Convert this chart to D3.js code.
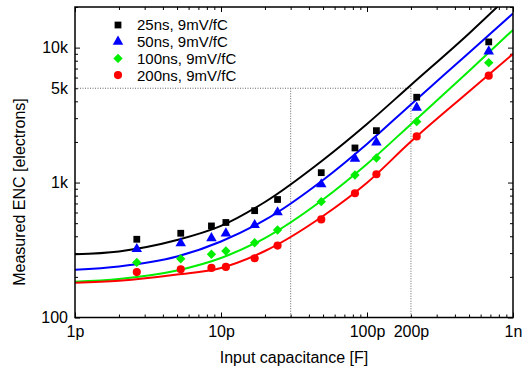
<!DOCTYPE html>
<html>
<head>
<meta charset="utf-8">
<script src="https://cdn.jsdelivr.net/npm/d3@7"></script>
<style>
  body { margin: 0; background: #fff; }
  svg { display: block; font-family: "Liberation Sans", Arial, sans-serif; }
</style>
</head>
<body>
<svg id="chart"></svg>
<script>
// measured points, capacitance in pF
const capPoints = [2.65, 5.3, 8.6, 10.8, 17, 24.4, 48.6, 82.7, 116, 219, 682]
const enc25 = [380, 421, 477, 506, 619, 749, 1184, 1805, 2425, 4289, 11024]
const enc50 = [322, 355, 387, 420, 485, 603, 971, 1504, 1983, 3592, 9372]
const enc100 = [256, 272, 294, 311, 358, 445, 722, 1138, 1522, 2828, 7741]
const enc200 = [217, 228, 233, 237, 275, 341, 533, 833, 1152, 2197, 6200]

// fitted curves
const fitCap = [1, 2, 5, 10, 20, 50, 100, 200, 500, 1000]
const fit25 = [294, 309, 375, 477, 718, 1471, 2719, 5290, 12745, 25880]
const fit50 = [226, 239, 283, 366, 528, 1045, 1933, 3793, 9168, 17928]
const fit100 = [184, 193, 223, 276, 388, 749, 1373, 2710, 6721, 13527]
const fit200 = [181, 187, 208, 233, 311, 565, 997, 2013, 4734, 8982]

const seriesNames = ["25ns, 9mV/fC", "50ns, 9mV/fC", "100ns, 9mV/fC", "200ns, 9mV/fC"]
const seriesColors = ["#000000", "#0000ff", "#00ee00", "#ff0000"]

const xTickVals = [1, 10, 100, 200, 1000]
const xTickLabels = ["1p", "10p", "100p", "200p", "1n"]
const yTickVals = [100, 1000, 5000, 10000]
const yTickLabels = ["100", "1k", "5k", "10k"]

// guide lines: 30p and 200p up to 5k
const guideCap = [30, 200]
const guideEnc = 5000

const width = 523, height = 374
const pLeft = 75, pRight = 513, pTop = 7, pBottom = 317.5

const svg = d3.select("#chart").attr("width", width).attr("height", height)

const x = d3.scaleLog().domain([1, 1000]).range([pLeft, pRight])
const y = d3.scaleLog().domain([100, 20000]).range([pBottom, pTop])

svg.append("defs").append("clipPath").attr("id", "plot")
    .append("rect")
    .attr("x", pLeft).attr("y", pTop)
    .attr("width", pRight - pLeft).attr("height", pBottom - pTop)

// minor ticks
function minorTicks(lo, hi){
    var t = []
    for (let d = lo; d < hi; d *= 10){
        for (let k = 2; k < 10; k++) t.push(d*k)
    }
    return t
}
const xMinor = minorTicks(1, 1000)
const yMinor = minorTicks(100, 10000).concat([20000])
const xMajor = [1, 10, 100, 1000]
const yMajor = [100, 1000, 10000]

function tickAxis(axis, vals, size){
    return axis.tickValues(vals).tickSize(-size).tickFormat("")
}

const axes = svg.append("g").attr("stroke-width", 1)
axes.append("g").attr("transform", `translate(0,${pBottom})`).call(tickAxis(d3.axisBottom(x), xMinor, 3))
axes.append("g").attr("transform", `translate(0,${pBottom})`).call(tickAxis(d3.axisBottom(x), xMajor, 5))
axes.append("g").attr("transform", `translate(0,${pTop})`).call(tickAxis(d3.axisTop(x), xMinor, 3))
axes.append("g").attr("transform", `translate(0,${pTop})`).call(tickAxis(d3.axisTop(x), xMajor, 5))
axes.append("g").attr("transform", `translate(${pLeft},0)`).call(tickAxis(d3.axisLeft(y), yMinor, 3))
axes.append("g").attr("transform", `translate(${pLeft},0)`).call(tickAxis(d3.axisLeft(y), yMajor, 5))
axes.append("g").attr("transform", `translate(${pRight},0)`).call(tickAxis(d3.axisRight(y), yMinor, 3))
axes.append("g").attr("transform", `translate(${pRight},0)`).call(tickAxis(d3.axisRight(y), yMajor, 5))
axes.selectAll(".domain").remove()

// labels
svg.append("g").attr("transform", `translate(0,${pBottom})`)
    .call(d3.axisBottom(x).tickValues(xTickVals).tickSize(0).tickPadding(8)
        .tickFormat((d,i) => xTickLabels[i]))
svg.append("g").attr("transform", `translate(${pLeft},0)`)
    .call(d3.axisLeft(y).tickValues(yTickVals).tickSize(0).tickPadding(7)
        .tickFormat((d,i) => yTickLabels[i]))
svg.selectAll(".domain").remove()
svg.selectAll(".tick text").attr("font-size", 16).attr("fill", "#000")
    .attr("font-family", "Liberation Sans, Arial, sans-serif")

// dotted guides
const guides = svg.append("g")
    .attr("stroke", "#666").attr("stroke-width", 1).attr("stroke-dasharray", "1,1.5")
guides.append("line")
    .attr("x1", pLeft).attr("x2", x(guideCap[1]))
    .attr("y1", y(guideEnc)).attr("y2", y(guideEnc))
guides.selectAll("line.v").data(guideCap).enter().append("line")
    .attr("class", "v")
    .attr("x1", d => x(d)).attr("x2", d => x(d))
    .attr("y1", y(guideEnc)).attr("y2", pBottom)

// curves
const fits = [fit25, fit50, fit100, fit200]
const line = d3.line()
    .x(d => x(d[0])).y(d => y(d[1]))
    .curve(d3.curveMonotoneX)

svg.append("g").attr("clip-path", "url(#plot)")
    .selectAll("path").data(fits).enter().append("path")
    .attr("d", f => line(fitCap.map((c,i) => [c, f[i]])))
    .attr("fill", "none")
    .attr("stroke", (d,i) => seriesColors[i])
    .attr("stroke-width", 2)

// markers
const symbols = [
    d3.symbol().type(d3.symbolSquare).size(46),
    d3.symbol().type(d3.symbolTriangle).size(48),
    d3.symbol().type(d3.symbolSquare).size(44),
    d3.symbol().type(d3.symbolCircle).size(52)
]
const rot = [0, 0, 45, 0]
const points = [enc25, enc50, enc100, enc200]

points.forEach((vals, s) => {
    svg.append("g").selectAll("path").data(vals).enter().append("path")
        .attr("d", symbols[s]())
        .attr("transform", (d,i) => `translate(${x(capPoints[i])},${y(d)}) rotate(${rot[s]})`)
        .attr("fill", seriesColors[s])
})

// legend
const legend = svg.append("g")
seriesNames.forEach((name, i) => {
    let ly = 25 + i*16.7
    legend.append("path")
        .attr("d", symbols[i]())
        .attr("transform", `translate(118,${ly}) rotate(${rot[i]})`)
        .attr("fill", seriesColors[i])
    legend.append("text")
        .attr("x", 137).attr("y", ly).attr("dy", "0.36em")
        .attr("font-size", 15)
        .text(name)
})

// frame
svg.append("rect")
    .attr("x", pLeft).attr("y", pTop)
    .attr("width", pRight - pLeft).attr("height", pBottom - pTop)
    .attr("fill", "none").attr("stroke", "#000").attr("stroke-width", 1.5)

// axis titles
svg.append("text")
    .attr("x", (pLeft + pRight)/2).attr("y", 363)
    .attr("text-anchor", "middle").attr("font-size", 16)
    .text("Input capacitance [F]")
svg.append("text")
    .attr("transform", "translate(25,192) rotate(-90)")
    .attr("text-anchor", "middle").attr("font-size", 16)
    .text("Measured ENC [electrons]")
</script>
</body>
</html>
